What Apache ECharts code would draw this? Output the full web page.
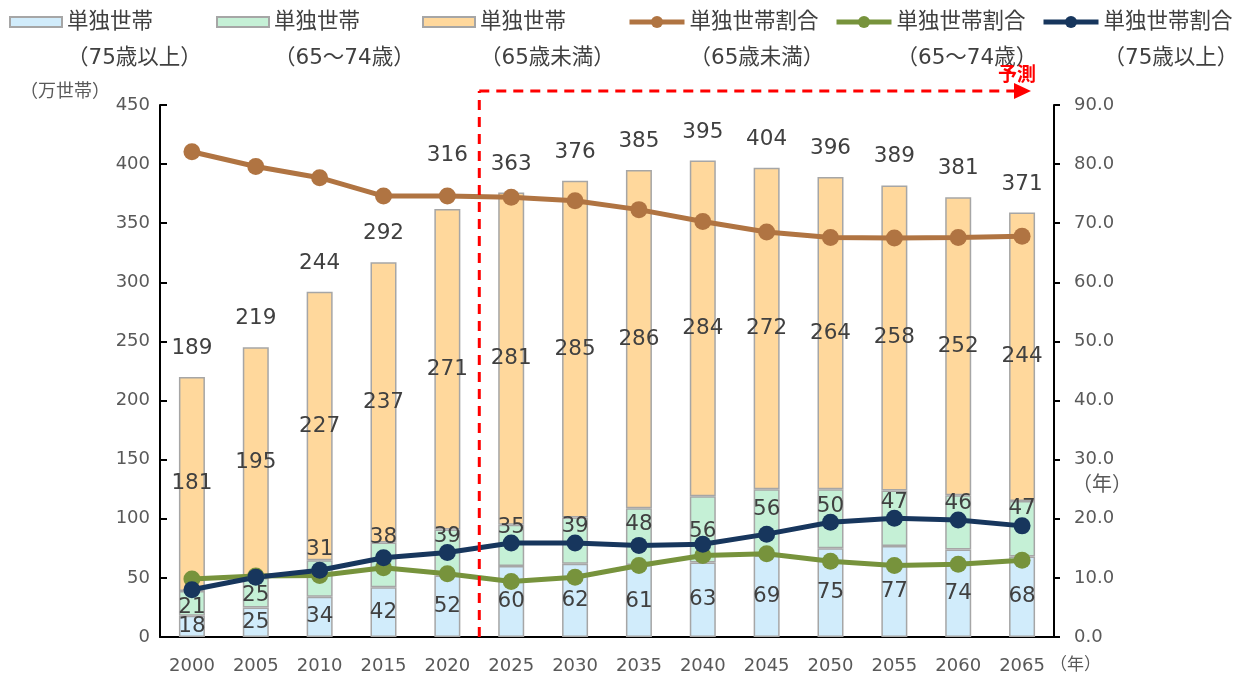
<!DOCTYPE html>
<html>
<head>
<meta charset="utf-8">
<script src="https://cdn.jsdelivr.net/npm/echarts@6/dist/echarts.min.js"></script>
<style>
html,body{margin:0;padding:0;background:#fff;}
#main{width:1250px;height:678px;}
</style>
</head>
<body>
<div id="main"></div>
<script>
// ---- data ----
const years = ['2000','2005','2010','2015','2020','2025','2030','2035','2040','2045','2050','2055','2060','2065'];
const hh75plus = [18,25,34,42,52,60,62,61,63,69,75,77,74,68];
const hh65to74 = [21,25,31,38,39,35,39,48,56,56,50,47,46,47];
const hhUnder65 = [181,195,227,237,271,281,285,286,284,272,264,258,252,244];
const totalLabels = [189,219,244,292,316,363,376,385,395,404,396,389,381,371];
const shareUnder65 = [82.1,79.6,77.7,74.6,74.6,74.4,73.8,72.3,70.3,68.5,67.6,67.5,67.6,67.8];
const share65to74 = [9.8,10.3,10.4,11.7,10.7,9.4,10.1,12.1,13.8,14.1,12.8,12.1,12.3,13.0];
const share75plus = [8.0,10.1,11.3,13.4,14.3,15.9,15.9,15.5,15.7,17.4,19.4,20.1,19.8,18.8];
const leftTicks = {min:0, max:450, interval:50};
const rightTicks = {min:0, max:90, interval:10};

// ---- style helpers (label nudges, px) ----
const greenLabelNudge = [4,3,-29,-27,-16,-18,-14,-12,2,-13,-12,-16,-19,-20];
const totalLabelNudge = [0,0,0,0,-25,0,0,0,0,0,0,0,0,0];

const NUM_FONT = 'DejaVu Sans';
const JP_FONT = '"Noto Sans CJK JP"';
const LEGEND_FONT = '"DejaVu Sans", "Noto Sans CJK JP"';
const names = {
  b1:'単独世帯（75歳以上）', b2:'単独世帯（65～74歳）', b3:'単独世帯（65歳未満）',
  l1:'単独世帯割合（65歳未満）', l2:'単独世帯割合（65～74歳）', l3:'単独世帯割合（75歳以上）'
};
const colors = {b1:'#D1ECFB', b2:'#C5F0D6', b3:'#FFD89C', l1:'#B07442', l2:'#77933C', l3:'#17365D'};
const labelStyle = {fontFamily: NUM_FONT, fontSize: 21.5, color:'#404040'};

const totals = years.map((_, i) => hh75plus[i] + hh65to74[i] + hhUnder65[i]);

function barSeries(key, data, extraLabel){
  return {
    name: names[key], type:'bar', stack:'hh', barWidth:26, yAxisIndex:0,
    itemStyle:{color:colors[key], borderColor:'#A6A6A6', borderWidth:1.5},
    data: data.map((v,i)=>({value:v, label: extraLabel ? extraLabel(i) : undefined})),
    label:Object.assign({show:true, position:'inside'}, labelStyle),
    emphasis:{disabled:true}, z:2
  };
}
function lineSeries(key, data){
  return {
    name:names[key], type:'line', yAxisIndex:1, data:data,
    symbol:'circle', symbolSize:17,
    lineStyle:{color:colors[key], width:5},
    itemStyle:{color:colors[key]},
    emphasis:{disabled:true}, z:4
  };
}
function legendFor(key, left, isLine){
  const lg = {
    data:[{name:names[key], icon: isLine ? undefined : 'rect'}], left:left, top:-37, orient:'horizontal',
    itemWidth: isLine ? 55 : 52, itemHeight: isLine ? 15 : 10, itemGap:6,
    selectedMode:false,
    formatter: n => '\n' + n.replace('（','\n（'),
    textStyle:{fontFamily:LEGEND_FONT, fontSize:21.5, color:'#404040', lineHeight:36}
  };
  if (isLine) lg.lineStyle = {width:5};
  return lg;
}

const chart = echarts.init(document.getElementById('main'), null, {renderer:'canvas'});
const option = {
  animation:false,
  backgroundColor:'#fff',
  grid:{left:160, right:196, top:105, bottom:41, containLabel:false},
  legend:[
    legendFor('b1', 4, false), legendFor('b2', 211, false), legendFor('b3', 417, false),
    legendFor('l1', 622, true), legendFor('l2', 829, true), legendFor('l3', 1036, true)
  ],
  xAxis:{
    type:'category', data:years, boundaryGap:true,
    axisLine:{lineStyle:{color:'#000', width:2}},
    axisTick:{inside:true, length:7, lineStyle:{color:'#000', width:2}},
    axisLabel:{fontFamily:NUM_FONT, fontSize:18, color:'#595959', margin:20}
  },
  yAxis:[
    {type:'value', min:leftTicks.min, max:leftTicks.max, interval:leftTicks.interval,
     axisLine:{show:true, lineStyle:{color:'#000', width:2}},
     axisTick:{show:true, inside:true, length:7, lineStyle:{color:'#000', width:2}},
     splitLine:{show:false},
     axisLabel:{fontFamily:NUM_FONT, fontSize:18, color:'#595959', margin:10}},
    {type:'value', min:rightTicks.min, max:rightTicks.max, interval:rightTicks.interval, position:'right',
     axisLine:{show:true, lineStyle:{color:'#000', width:2}},
     axisTick:{show:true, inside:false, length:6, lineStyle:{color:'#000', width:2}},
     splitLine:{show:false},
     axisLabel:{fontFamily:NUM_FONT, fontSize:18, color:'#595959', margin:20, formatter:v=>v.toFixed(1)}}
  ],
  series:[
    barSeries('b1', hh75plus),
    barSeries('b2', hh65to74, i=>({offset:[0, greenLabelNudge[i]]})),
    barSeries('b3', hhUnder65),
    {
      name:'totalLabels', type:'line', yAxisIndex:0, silent:true,
      data: totals.map((v,i)=>({value:v, label:{offset:[0,totalLabelNudge[i]]}})),
      symbol:'circle', symbolSize:1, showSymbol:true,
      itemStyle:{color:'rgba(0,0,0,0)'},
      lineStyle:{color:'rgba(0,0,0,0)', width:0}, z:3,
      label:Object.assign({show:true, position:'top', distance:17,
        formatter:p=>String(totalLabels[p.dataIndex])}, labelStyle),
      emphasis:{disabled:true}
    },
    lineSeries('l1', shareUnder65),
    lineSeries('l2', share65to74),
    lineSeries('l3', share75plus)
  ]
};
chart.setOption(option);

// annotations positioned from the chart's own scales
const x2020 = chart.convertToPixel({xAxisIndex:0}, '2020');
const x2025 = chart.convertToPixel({xAxisIndex:0}, '2025');
const xSplit = (x2020 + x2025) / 2;
const yBase = chart.convertToPixel({yAxisIndex:0}, 0);
const yTop = 91;
const xArrowEnd = 1031;
chart.setOption({
  graphic:[
    {type:'line', shape:{x1:xSplit, y1:yBase, x2:xSplit, y2:yTop},
     style:{stroke:'#FF0000', lineWidth:3, lineDash:[10,7]}, z:10},
    {type:'line', shape:{x1:xSplit, y1:yTop, x2:xArrowEnd-16, y2:yTop},
     style:{stroke:'#FF0000', lineWidth:3, lineDash:[10,7]}, z:10},
    {type:'polygon', shape:{points:[[xArrowEnd-17,yTop-8],[xArrowEnd,yTop],[xArrowEnd-17,yTop+8]]},
     style:{fill:'#FF0000'}, z:10},
    {type:'text', x:1017, y:74, style:{text:'予測', fill:'#FF0000', font:'bold 19px "Noto Sans CJK JP"', align:'center', verticalAlign:'middle'}, z:10},
    {type:'text', x:110, y:90, style:{text:'（万世帯）', fill:'#595959', font:'18px "Noto Sans CJK JP"', align:'right', verticalAlign:'middle'}},
    {type:'text', x:1072, y:483, style:{text:'（年）', fill:'#595959', font:'20px "Noto Sans CJK JP"', align:'left', verticalAlign:'middle'}},
    {type:'text', x:1050, y:664, style:{text:'（年）', fill:'#595959', font:'17px "Noto Sans CJK JP"', align:'left', verticalAlign:'middle'}}
  ]
});
</script>
</body>
</html>
